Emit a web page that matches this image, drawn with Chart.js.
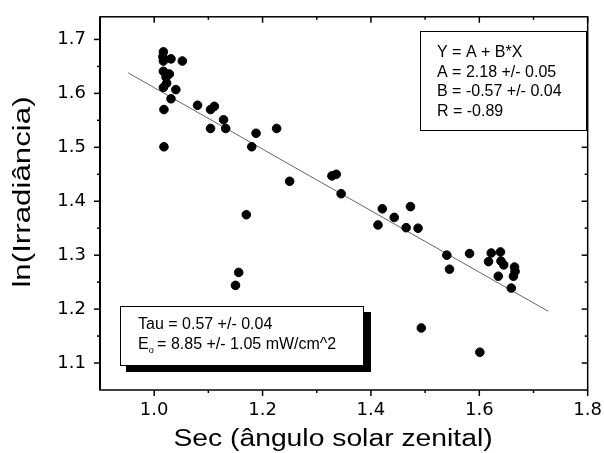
<!DOCTYPE html>
<html>
<head>
<meta charset="utf-8">
<title>ln(Irradiância) x Sec</title>
<script src="https://cdn.jsdelivr.net/npm/chart.js@4/dist/chart.umd.min.js"></script>
<style>
    html, body { margin: 0; padding: 0; background: #fff; }
    #chart { display: block; }
</style>
</head>
<body>
<canvas id="chart" width="604" height="453"></canvas>
<script>
// Dados
const secValues = [1.017, 1.016, 1.017, 1.031, 1.052, 1.017, 1.028, 1.022, 1.023, 1.017,
    1.040, 1.031, 1.018, 1.018, 1.080, 1.104, 1.111, 1.128, 1.104, 1.132,
    1.188, 1.226, 1.180, 1.250, 1.328, 1.336, 1.345, 1.170, 1.156, 1.150,
    1.421, 1.473, 1.443, 1.413, 1.465, 1.487, 1.493, 1.540, 1.545, 1.582,
    1.622, 1.639, 1.617, 1.640, 1.645, 1.635, 1.665, 1.666, 1.663, 1.659, 1.601];
const lnIrradiance = [1.677, 1.668, 1.660, 1.664, 1.660, 1.641, 1.636, 1.630, 1.619, 1.611,
    1.607, 1.590, 1.570, 1.501, 1.578, 1.570, 1.576, 1.551, 1.535, 1.535,
    1.526, 1.535, 1.501, 1.437, 1.447, 1.450, 1.414, 1.375, 1.268, 1.244,
    1.386, 1.390, 1.370, 1.356, 1.351, 1.350, 1.165, 1.300, 1.274, 1.303,
    1.304, 1.306, 1.288, 1.289, 1.282, 1.261, 1.278, 1.270, 1.261, 1.239, 1.120];

// Reta ajustada (extremos)
const fitX = [0.952, 1.727];
const fitY = [1.638, 1.196];

// Marcas dos eixos
const xTicks = [1.0, 1.2, 1.4, 1.6, 1.8];
const xMinorTicks = [1.1, 1.3, 1.5, 1.7];
const yTicks = [1.1, 1.2, 1.3, 1.4, 1.5, 1.6, 1.7];
const yMinorTicks = [1.15, 1.25, 1.35, 1.45, 1.55, 1.65];

// Textos das caixas
const fitBoxLines = ['Y = A + B*X', 'A = 2.18 +/- 0.05', 'B = -0.57 +/- 0.04', 'R = -0.89'];
const tauLine = 'Tau = 0.57 +/- 0.04';
const eoLine = ' = 8.85 +/- 1.05 mW/cm^2';

const FONT = '"Liberation Sans", Arial, Helvetica, sans-serif';
const WIDE_FONT = '"DejaVu Sans", Verdana, sans-serif';

/**
 * Escreve um texto esticado na horizontal (a fonte da figura é larga)
 */
function stretchedText(ctx, text, x, y, stretch, angle) {
    ctx.save();
    ctx.translate(x, y);
    ctx.rotate(angle || 0);
    ctx.scale(stretch, 1);
    ctx.fillText(text, 0, 0);
    ctx.restore();
}

/**
 * Desenha moldura, marcas, títulos dos eixos e caixas de texto
 */
const framePlugin = {
    id: 'frame',
    afterDraw(chart) {
        const { ctx, chartArea: area, scales } = chart;
        const x = scales.x;
        const y = scales.y;

        ctx.save();
        ctx.strokeStyle = '#000';
        ctx.fillStyle = '#000';

        // Moldura (eixo esquerdo um pouco mais grosso)
        ctx.lineWidth = 1.5;
        ctx.strokeRect(area.left, area.top, area.right - area.left, area.bottom - area.top);
        ctx.lineWidth = 2;
        ctx.beginPath();
        ctx.moveTo(area.left, area.top);
        ctx.lineTo(area.left, area.bottom);
        ctx.stroke();
        ctx.lineWidth = 1.5;

        // Marcas: para fora em baixo/esquerda, para dentro em cima/direita
        const tick = (x1, y1, x2, y2) => {
            ctx.beginPath();
            ctx.moveTo(x1, y1);
            ctx.lineTo(x2, y2);
            ctx.stroke();
        };
        xTicks.forEach(v => {
            const px = x.getPixelForValue(v);
            tick(px, area.bottom, px, area.bottom + 6);
            tick(px, area.top, px, area.top + 6);
        });
        xMinorTicks.forEach(v => {
            const px = x.getPixelForValue(v);
            tick(px, area.bottom, px, area.bottom + 3);
            tick(px, area.top, px, area.top + 3);
        });
        yTicks.forEach(v => {
            const py = y.getPixelForValue(v);
            tick(area.left - 6, py, area.left, py);
            tick(area.right - 6, py, area.right, py);
        });
        yMinorTicks.forEach(v => {
            const py = y.getPixelForValue(v);
            tick(area.left - 3, py, area.left, py);
            tick(area.right - 3, py, area.right, py);
        });

        // Títulos dos eixos
        ctx.textAlign = 'center';
        ctx.textBaseline = 'middle';
        ctx.font = '23px ' + FONT;
        stretchedText(ctx, 'Sec (ângulo solar zenital)', 333, 440, 1.23);
        stretchedText(ctx, 'ln(Irradiância)', 24, 192, 1.36, -Math.PI / 2);

        // Caixa do ajuste linear
        ctx.lineWidth = 1;
        ctx.fillStyle = '#fff';
        ctx.fillRect(420, 31, 167, 100);
        ctx.strokeRect(420.5, 31.5, 166, 99);
        ctx.fillStyle = '#000';
        ctx.textAlign = 'left';
        ctx.font = '16px ' + FONT;
        fitBoxLines.forEach((line, i) => {
            ctx.fillText(line, 437, 53 + i * 19.5);
        });

        // Caixa Tau / Eo com sombra
        ctx.fillRect(126, 312, 245, 60);
        ctx.fillStyle = '#fff';
        ctx.fillRect(120, 306, 244, 60);
        ctx.strokeRect(120.5, 306.5, 243, 59);
        ctx.fillStyle = '#000';
        ctx.fillText(tauLine, 138, 325);
        ctx.fillText('E', 138, 345);
        const eWidth = ctx.measureText('E').width;
        ctx.font = '9px ' + FONT;
        ctx.fillText('o', 138 + eWidth, 351);
        ctx.font = '16px ' + FONT;
        ctx.fillText(eoLine, 138 + eWidth + 4, 345);

        ctx.restore();
    }
};

const ctx = document.getElementById('chart');

new Chart(ctx, {
    type: 'scatter',
    data: {
        datasets: [
            {
                label: 'Dados',
                data: secValues.map((v, i) => ({ x: v, y: lnIrradiance[i] })),
                backgroundColor: '#000',
                borderColor: '#000',
                pointRadius: 4.3,
                pointHoverRadius: 4.3
            },
            {
                label: 'Ajuste',
                type: 'line',
                data: fitX.map((v, i) => ({ x: v, y: fitY[i] })),
                borderColor: '#555',
                borderWidth: 0.9,
                pointRadius: 0,
                fill: false
            }
        ]
    },
    options: {
        responsive: false,
        animation: false,
        events: [],
        layout: {
            padding: { top: 13, right: 14, left: 0, bottom: 0 }
        },
        plugins: {
            legend: { display: false },
            tooltip: { enabled: false }
        },
        scales: {
            x: {
                type: 'linear',
                min: 0.9,
                max: 1.8,
                grid: { display: false },
                border: { display: false },
                afterBuildTicks: scale => {
                    scale.ticks = xTicks.map(v => ({ value: v }));
                },
                afterFit: scale => {
                    scale.height = 63;
                },
                ticks: {
                    color: '#000',
                    padding: 2,
                    maxRotation: 0,
                    font: { family: WIDE_FONT, size: 18 },
                    callback: value => value.toFixed(1)
                }
            },
            y: {
                type: 'linear',
                min: 1.05,
                max: 1.742,
                grid: { display: false },
                border: { display: false },
                afterBuildTicks: scale => {
                    scale.ticks = yTicks.map(v => ({ value: v }));
                },
                afterFit: scale => {
                    scale.width = 100;
                },
                ticks: {
                    color: '#000',
                    padding: 6,
                    font: { family: WIDE_FONT, size: 18 },
                    callback: value => value.toFixed(1)
                }
            }
        }
    },
    plugins: [framePlugin]
});
</script>
</body>
</html>
